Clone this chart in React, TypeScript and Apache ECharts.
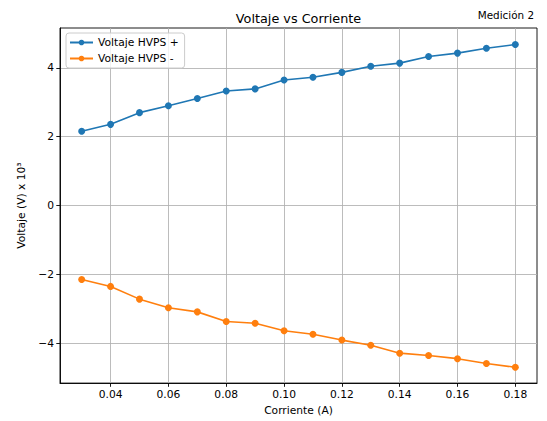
import React, { useEffect, useRef } from "react";
import * as echarts from "echarts";

const currents = [0.03, 0.04, 0.05, 0.06, 0.07, 0.08, 0.09, 0.1, 0.11, 0.12, 0.13, 0.14, 0.15, 0.16, 0.17, 0.18];
const hvpsPlus = [2.16, 2.36, 2.70, 2.90, 3.11, 3.33, 3.39, 3.65, 3.73, 3.87, 4.05, 4.14, 4.33, 4.43, 4.57, 4.68];
const hvpsMinus = [-2.15, -2.35, -2.72, -2.97, -3.09, -3.37, -3.42, -3.64, -3.74, -3.91, -4.06, -4.29, -4.36, -4.45, -4.59, -4.70];
const xTicks = [0.04, 0.06, 0.08, 0.1, 0.12, 0.14, 0.16, 0.18];
const yTicks = [-4, -2, 0, 2, 4];

const FONT = "DejaVu Sans";

export default function App() {
  const ref = useRef<HTMLDivElement>(null);
  useEffect(() => {
    if (!ref.current) return;
    const chart = echarts.init(ref.current, null, { renderer: "svg" });
    const toPairs = (ys: number[]) => currents.map((x, i) => [x, ys[i]]);
    chart.setOption({
      animation: false,
      backgroundColor: "#ffffff",
      textStyle: { fontFamily: FONT },
      grid: {
        left: 60,
        right: 10,
        top: 28,
        bottom: 37,
        containLabel: false,
        show: true,
        borderColor: "#000000",
        borderWidth: 0.9,
        backgroundColor: "#ffffff",
      },
      graphic: [
        {
          type: "text",
          x: 298.5,
          y: 18,
          style: {
            text: "Voltaje vs Corriente",
            fill: "#000",
            font: `12.8px '${FONT}'`,
            textAlign: "center",
            textVerticalAlign: "middle",
          },
        },
        {
          type: "text",
          x: 534,
          y: 15,
          style: {
            text: "Medición 2",
            fill: "#000",
            font: `10.4px '${FONT}'`,
            textAlign: "right",
            textVerticalAlign: "middle",
          },
        },
      ],
      legend: {
        orient: "vertical",
        left: 66,
        top: 33,
        padding: [4, 6, 4, 3],
        itemGap: 5,
        itemWidth: 23,
        itemHeight: 7,
        itemTextGap: 7,
        backgroundColor: "rgba(255,255,255,0.8)",
        borderColor: "#cccccc",
        borderWidth: 1,
        borderRadius: 3,
        textStyle: { fontFamily: FONT, fontSize: 10.7, color: "#000" },
        data: ["Voltaje HVPS +", "Voltaje HVPS -"],
      },
      xAxis: {
        type: "value",
        min: 0.0225,
        max: 0.1875,
        name: "Corriente (A)",
        nameLocation: "middle",
        nameGap: 20,
        nameTextStyle: { fontFamily: FONT, fontSize: 10.7, color: "#000" },
        axisLine: { show: true, onZero: false, lineStyle: { color: "#000", width: 0.9 } },
        axisTick: { show: true, length: 3.7, customValues: xTicks, lineStyle: { color: "#000", width: 0.9 } },
        axisLabel: {
          customValues: xTicks,
          margin: 6,
          fontFamily: FONT,
          fontSize: 10.7,
          color: "#000",
          formatter: (v: number) => v.toFixed(2),
        },
        splitLine: { show: true, lineStyle: { color: "#b0b0b0", width: 0.85 } },
      },
      yAxis: {
        type: "value",
        min: -5.16,
        max: 5.16,
        name: "Voltaje (V) x 10³",
        nameLocation: "middle",
        nameGap: 27,
        nameRotate: 90,
        nameTextStyle: { fontFamily: FONT, fontSize: 10.7, color: "#000" },
        axisLine: { show: true, onZero: false, lineStyle: { color: "#000", width: 0.9 } },
        axisTick: { show: true, length: 3.7, customValues: yTicks, lineStyle: { color: "#000", width: 0.9 } },
        axisLabel: {
          customValues: yTicks,
          margin: 6,
          fontFamily: FONT,
          fontSize: 10.7,
          color: "#000",
          formatter: (v: number) => (v < 0 ? "\u2212" + Math.abs(v) : String(v)),
        },
        splitLine: { show: true, lineStyle: { color: "#b0b0b0", width: 0.85 } },
      },
      series: [
        {
          name: "Voltaje HVPS +",
          type: "line",
          data: toPairs(hvpsPlus),
          symbol: "circle",
          symbolSize: 7,
          color: "#1f77b4",
          lineStyle: { width: 1.6, color: "#1f77b4" },
          itemStyle: { color: "#1f77b4" },
        },
        {
          name: "Voltaje HVPS -",
          type: "line",
          data: toPairs(hvpsMinus),
          symbol: "circle",
          symbolSize: 7,
          color: "#ff7f0e",
          lineStyle: { width: 1.6, color: "#ff7f0e" },
          itemStyle: { color: "#ff7f0e" },
        },
      ],
    });
    return () => chart.dispose();
  }, []);
  return (
    <div
      ref={ref}
      style={{ position: "fixed", left: 0, top: 0, width: 547, height: 421, background: "#fff" }}
    />
  );
}
